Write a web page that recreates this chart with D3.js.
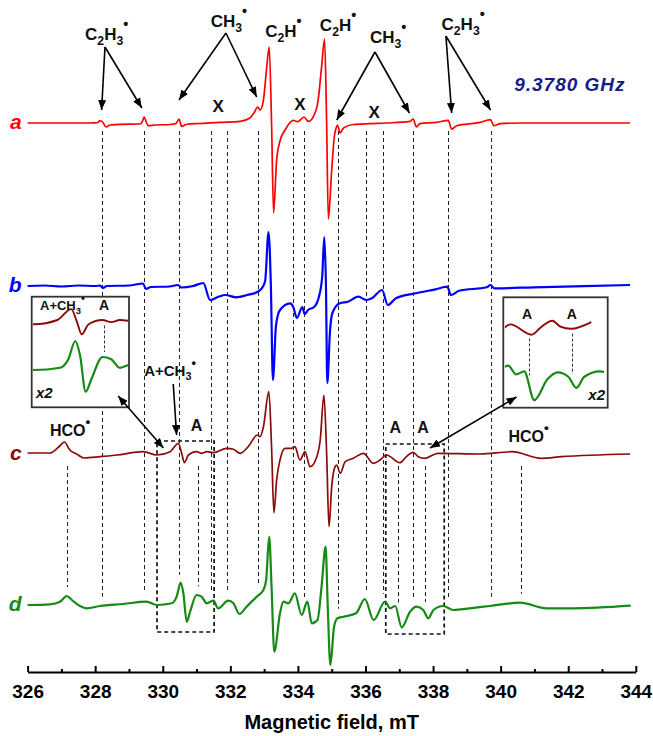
<!DOCTYPE html>
<html>
<head>
<meta charset="utf-8">
<script src="https://cdn.jsdelivr.net/npm/d3@7"></script>
<style>
  body { margin: 0; background: #fff; }
  svg { display: block; font-family: "Liberation Sans", Arial, sans-serif; }
</style>
</head>
<body>
<svg id="chart" width="653" height="736"></svg>
<script>
// ---- EPR spectra: [field (mT), intensity (a.u., relative to the trace baseline)] ----
const specA = [
  [326.00,0],[327.85,0],[328.08,0.5],[328.14,2.5],[328.23,0.5],[328.32,-4],[328.44,-2],[328.73,-1.3],
  [329.33,-1],[329.39,1],[329.45,6],[329.50,2],[329.57,-2.7],[329.77,-2],[330.21,-1.5],[330.39,-0.5],
  [330.48,4],[330.56,-3.4],[330.69,-1.5],[331.10,-0.5],[331.69,0.6],[332.29,1.6],[332.58,5],[332.70,10],
  [332.81,16],[332.88,13],[332.98,23],[333.08,57],[333.15,76],[333.22,0],[333.28,-90],[333.37,-37],
  [333.47,-18],[333.62,-7],[333.86,2.6],[333.99,1.3],[334.18,6],[334.31,1.6],[334.46,6.6],[334.60,23],
  [334.70,56],[334.79,84],[334.85,0],[334.90,-96],[335.00,-47],[335.08,-13],[335.13,-5],[335.17,-2],
  [335.25,-10],[335.35,-5],[335.64,-1.5],[336.13,-0.7],[336.62,0],[337.32,1.6],[337.41,4],[337.51,-4],
  [337.61,-0.7],[338.10,0.6],[338.45,2.6],[338.55,-6],[338.70,-2.7],[339.39,0.6],[339.70,3.3],[339.80,-2.7],
  [339.98,-0.7],[340.57,0],[343.83,0]
];
const specB = [
  [326.00,0],[326.50,0.5],[327.00,-0.5],[327.50,0.5],[328.00,0],[328.15,0.5],[328.22,-2],[328.35,0],
  [329.00,0.5],[329.42,2.5],[329.50,-3],[329.65,-1],[330.20,-0.5],[330.45,1],[330.55,-1.5],[330.90,0],
  [331.20,3],[331.40,-14],[331.65,-10.7],[331.85,-9],[332.17,-11.3],[332.50,-9],[332.81,-5.7],[332.93,-2.3],
  [333.03,5],[333.13,54],[333.20,0],[333.26,-94],[333.35,-40],[333.47,-24],[333.77,-17.3],[333.86,-20.7],
  [333.97,-32],[334.13,-21],[334.20,-28],[334.30,-24],[334.48,-21],[334.62,-11],[334.72,10],[334.78,49],
  [334.83,0],[334.87,-97],[334.95,-45],[335.02,-27],[335.24,-17.3],[335.48,-15.7],[335.79,-10.7],[336.02,-14],
  [336.19,-12.3],[336.49,-4],[336.66,-19],[336.90,-12.3],[337.49,-7.3],[338.07,-3.3],[338.42,-0.7],[338.53,-9],
  [338.77,-4.7],[339.59,-1.3],[339.70,1],[339.81,-2.3],[340.98,-1.3],[343.83,1]
];
const specC = [
  [326.00,1],[326.66,1],[326.92,7],[327.09,12],[327.25,4],[327.45,0],[327.67,-4],[328.14,-2.7],[328.64,-1],
  [329.43,2.3],[329.82,-1],[330.22,2.3],[330.46,10.7],[330.56,0.7],[330.64,-8.7],[330.76,-1],[331.00,2.3],
  [331.15,0.7],[331.30,2.3],[331.50,1.3],[331.89,5.7],[332.09,4.7],[332.29,0.7],[332.53,7.3],[332.80,19],
  [332.88,17.3],[332.98,27.3],[333.14,62.3],[333.22,7.3],[333.29,-58.7],[333.37,-26],[333.47,-6],[333.62,5.7],
  [333.81,5.7],[333.91,7.3],[334.06,-6],[334.21,2.3],[334.36,-12.7],[334.56,-2.7],[334.66,14],[334.77,59],
  [334.85,0.7],[334.92,-72.7],[335.00,-32.7],[335.10,-12.7],[335.15,-11],[335.25,-19.3],[335.40,-7.7],
  [335.64,-4.3],[335.94,0.7],[336.23,-9.3],[336.43,-6],[336.62,-1],[337.02,-8.7],[337.19,-3.3],[337.41,1.7],
  [337.56,-2.7],[337.76,-4.3],[338.14,0.7],[339.39,0],[340.33,2.3],[341.21,-4.3],[341.80,-2.7],[343.83,0]
];
const specD = [
  [326.00,0],[326.66,0.7],[326.96,3.3],[327.16,9],[327.31,5],[327.55,-1],[327.75,-3.3],[328.14,-1],
  [328.83,1],[329.52,3.3],[329.82,0],[330.27,1.7],[330.41,8.3],[330.53,22.3],[330.61,11.7],[330.71,-16.7],
  [330.81,-6.7],[331.00,10],[331.15,8.3],[331.30,1.7],[331.50,4.3],[331.64,-3.3],[331.94,4.3],[332.09,1.7],
  [332.27,-9],[332.48,-1.7],[332.78,8.3],[332.98,15],[333.06,25],[333.15,68.3],[333.22,18.3],[333.30,-46.7],
  [333.47,-8.3],[333.57,3.3],[333.72,1.7],[333.91,11.7],[334.11,-10],[334.28,3.3],[334.41,-18.3],[334.58,-15],
  [334.70,18.3],[334.82,58.3],[334.88,1.7],[334.96,-60],[335.07,-21.7],[335.17,-13.3],[335.35,-11.7],
  [335.72,-8.3],[335.98,6],[336.24,-15],[336.58,3.3],[336.73,-3.3],[336.88,-1],[337.07,-22.3],[337.32,-6.7],
  [337.51,-1.7],[337.71,-5],[337.86,-13.3],[338.01,-5],[338.30,-1],[338.60,-5],[339.09,-3.3],[339.68,-1],
  [340.57,2.3],[341.36,-3.3],[342.14,-3.3],[343.85,-0.7]
];

// Line positions (mT) of the assigned radicals
const c2h3Lines = [328.19, 329.45, 338.45, 339.70];
const ch3Lines  = [330.48, 332.81, 335.19, 337.41];
const xLines    = [331.42, 331.90, 333.85, 334.18, 336.01, 336.52];
const hcoLines  = [327.16, 340.59];
const aLines    = [331.03, 336.97, 337.77];

// Axis ticks (mT)
const majorTicks = [326, 328, 330, 332, 334, 336, 338, 340, 342, 344];
const minorTicks = [327, 329, 331, 333, 335, 337, 339, 341, 343];

// ---- layout ----
const svg = d3.select("#chart");
const x = d3.scaleLinear().domain([326, 344]).range([27.6, 635.8]);
const y = d3.scaleLinear().domain([0, 100]).range([672, 572]);
const offset = { a: 549, b: 386, c: 218, d: 67 };
const colors = { a: "#ff0000", b: "#0000ff", c: "#8b0a0a", d: "#158a15" };
const series = { a: specA, b: specB, c: specC, d: specD };
const snap = v => Math.round(v) + 0.5;

const defs = svg.append("defs");
defs.append("marker").attr("id", "arrow")
  .attr("markerUnits", "userSpaceOnUse").attr("markerWidth", 10).attr("markerHeight", 8)
  .attr("refX", 10).attr("refY", 4).attr("orient", "auto-start-reverse")
  .append("path").attr("d", "M0,0 L10,4 L0,8 Z").attr("fill", "#000");

function valueAt(spec, f) {
  const i = d3.bisector(d => d[0]).left(spec, f);
  if (i <= 0) return spec[0][1];
  if (i >= spec.length) return spec[spec.length - 1][1];
  const [f0, v0] = spec[i - 1], [f1, v1] = spec[i];
  return v0 + (v1 - v0) * (f - f0) / (f1 - f0);
}

// ---- vertical dashed guide lines (behind the traces) ----
const guides = svg.append("g").attr("stroke", "#222").attr("stroke-width", 1)
  .attr("stroke-dasharray", "4,3");
const fromTop = [...c2h3Lines, ...ch3Lines, ...xLines];
const fromC = [...hcoLines, ...aLines];
function guideEnd(f) {
  const m = d3.max([f - 0.04, f, f + 0.04], g => valueAt(specD, g));
  return y(offset.d + m) - 9;
}
fromTop.forEach(f => guides.append("line")
  .attr("x1", snap(x(f))).attr("x2", snap(x(f))).attr("y1", y(offset.a) + 8).attr("y2", guideEnd(f)));
fromC.forEach(f => guides.append("line")
  .attr("x1", snap(x(f))).attr("x2", snap(x(f))).attr("y1", y(offset.c) + 12).attr("y2", guideEnd(f)));

// ---- dashed boxes around the enlarged regions ----
const boxes = [
  { f0: 329.83, f1: 331.52, top: 441, bottom: 632 },
  { f0: 336.60, f1: 338.33, top: 444, bottom: 634 }
];
boxes.forEach(b => svg.append("rect")
  .attr("x", x(b.f0)).attr("y", b.top).attr("width", x(b.f1) - x(b.f0)).attr("height", b.bottom - b.top)
  .attr("fill", "none").attr("stroke", "#111").attr("stroke-width", 1.7).attr("stroke-dasharray", "4,3"));

// ---- spectra ----
const widths = { a: 1.7, b: 2.2, c: 1.7, d: 2.2 };
Object.keys(series).forEach(k => {
  const line = d3.line().curve(d3.curveMonotoneX)
    .x(d => x(d[0])).y(d => y(offset[k] + d[1]));
  svg.append("path").datum(series[k]).attr("d", line)
    .attr("fill", "none").attr("stroke", colors[k]).attr("stroke-width", widths[k])
    .attr("stroke-linejoin", "round");
  svg.append("text").attr("x", x(326) - 6).attr("y", y(offset[k]) + 6)
    .attr("text-anchor", "end").attr("font-size", 21).attr("font-weight", "bold")
    .attr("font-style", "italic").attr("fill", colors[k]).text(k);
});

// ---- x axis ----
const axisG = svg.append("g").attr("transform", `translate(0,${y(0)})`);
axisG.call(d3.axisBottom(x).tickValues(majorTicks).tickSize(-6).tickSizeOuter(0).tickPadding(13)
  .tickFormat(d3.format("d")));
axisG.append("g").call(d3.axisBottom(x).tickValues(minorTicks).tickSize(-3).tickSizeOuter(0).tickFormat(""))
  .select(".domain").remove();
axisG.selectAll("path, line").attr("stroke", "#000").attr("stroke-width", 2);
axisG.selectAll("text").attr("font-size", 19).attr("font-weight", "bold").attr("fill", "#000")
  .attr("font-family", "'Liberation Sans', Arial, sans-serif");
svg.append("text").attr("x", (x(326) + x(344)) / 2).attr("y", 729).attr("text-anchor", "middle")
  .attr("font-size", 20).attr("font-weight", "bold").text("Magnetic field, mT");

// ---- formula labels with sub/superscripts ----
function formula(parent, px, py, parts, size, anchor) {
  const t = parent.append("text").attr("x", px).attr("y", py).attr("font-size", size)
    .attr("font-weight", "bold").attr("text-anchor", anchor || "start").attr("fill", "#111");
  let shift = 0;
  parts.forEach(([s, kind]) => {
    const target = kind === "sub" ? 0.28 * size : kind === "sup" ? -0.62 * size : 0;
    const fs = kind === "sub" ? 0.72 * size : kind === "sup" ? 0.85 * size : size;
    t.append("tspan").attr("dy", target - shift).attr("font-size", fs).text(s);
    shift = target;
  });
  return t;
}
const C2H3 = [["C"], ["2", "sub"], ["H"], ["3", "sub"], ["•", "sup"]];
const CH3 = [["CH"], ["3", "sub"], ["•", "sup"]];
const C2H = [["C"], ["2", "sub"], ["H"], ["•", "sup"]];
const HCO = [["HCO"], ["•", "sup"]];
const ACH3 = [["A+CH"], ["3", "sub"], ["•", "sup"]];

function arrow(f0, y0, f1, y1, both) {
  const l = svg.append("line").attr("x1", x(f0)).attr("y1", y0).attr("x2", x(f1)).attr("y2", y1)
    .attr("stroke", "#000").attr("stroke-width", 1.6).attr("marker-end", "url(#arrow)");
  if (both) l.attr("marker-start", "url(#arrow)");
}

// top assignments
formula(svg, x(327.70), 40, C2H3, 17);
arrow(328.29, 47, 328.19, 110); arrow(328.29, 47, 329.38, 108);
formula(svg, x(331.42), 27, CH3, 17);
arrow(331.87, 33, 330.48, 100); arrow(331.87, 33, 332.78, 97);
formula(svg, x(333.03), 37, C2H, 17);
formula(svg, x(334.65), 31, C2H, 17);
formula(svg, x(336.13), 43, CH3, 17);
arrow(336.28, 52, 335.15, 120); arrow(336.28, 52, 337.30, 113);
formula(svg, x(338.25), 30, C2H3, 17);
arrow(338.38, 36, 338.55, 113); arrow(338.38, 36, 339.70, 110);
[[331.64, 112], [334.06, 110], [336.26, 118]].forEach(([f, py]) =>
  svg.append("text").attr("x", x(f)).attr("y", py).attr("text-anchor", "middle")
    .attr("font-size", 17).attr("font-weight", "bold").attr("fill", "#111").text("X"));
svg.append("text").attr("x", x(340.40)).attr("y", 91).attr("font-size", 19).attr("font-weight", "bold")
  .attr("font-style", "italic").attr("letter-spacing", 1).attr("fill", "#1a1a8a").text("9.3780 GHz");

// labels around trace c
formula(svg, x(329.45), 376, ACH3, 15);
arrow(330.31, 384, 330.41, 435);
svg.append("text").attr("x", x(331.00)).attr("y", 431).attr("text-anchor", "middle")
  .attr("font-size", 16).attr("font-weight", "bold").attr("fill", "#111").text("A");
formula(svg, x(326.66), 436, HCO, 16);
[336.88, 337.70].forEach(f => svg.append("text").attr("x", x(f)).attr("y", 433).attr("text-anchor", "middle")
  .attr("font-size", 16).attr("font-weight", "bold").attr("fill", "#111").text("A"));
formula(svg, x(340.23), 442, HCO, 16);

// ---- enlarged insets (traces c and d) ----
const insets = [
  { id: "insL", left: 31.7, top: 296.7, w: 97.3, h: 110.6, domain: [329.80, 331.44], px: [33, 128],
    red: 323, green: 370, k: 1.3, marks: [331.03] },
  { id: "insR", left: 503.3, top: 297.3, w: 104.4, h: 110.4, domain: [336.52, 338.38], px: [505, 604],
    red: 323, green: 370, k: 1.35, marks: [336.97, 337.77] }
];
insets.forEach(ins => {
  svg.append("rect").attr("x", ins.left).attr("y", ins.top).attr("width", ins.w).attr("height", ins.h)
    .attr("fill", "#fff").attr("stroke", "#333").attr("stroke-width", 1.8);
  defs.append("clipPath").attr("id", ins.id).append("rect")
    .attr("x", ins.px[0]).attr("y", ins.top).attr("width", ins.px[1] - ins.px[0]).attr("height", ins.h);
  const xi = d3.scaleLinear().domain(ins.domain).range(ins.px);
  const g = svg.append("g").attr("clip-path", `url(#${ins.id})`);
  [["c", ins.red], ["d", ins.green]].forEach(([k, base]) => {
    const pts = series[k].filter(d => d[0] > ins.domain[0] - 0.4 && d[0] < ins.domain[1] + 0.4);
    const line = d3.line().curve(d3.curveMonotoneX).x(d => xi(d[0])).y(d => base - ins.k * d[1]);
    g.append("path").datum(pts).attr("d", line).attr("fill", "none")
      .attr("stroke", colors[k]).attr("stroke-width", k === "d" ? 2.2 : 1.9);
  });
  ins.marks.forEach(f => {
    const top = ins.red - ins.k * valueAt(specC, f) + 5;
    const bot = ins.green - ins.k * d3.max([f - 0.03, f, f + 0.03], g2 => valueAt(specD, g2)) - 5;
    svg.append("line").attr("x1", snap(xi(f))).attr("x2", snap(xi(f))).attr("y1", top).attr("y2", bot)
      .attr("stroke", "#333").attr("stroke-width", 1).attr("stroke-dasharray", "3,2");
  });
});
// inset captions
formula(svg, 40, 310, ACH3, 13);
svg.append("text").attr("x", 104).attr("y", 310).attr("text-anchor", "middle")
  .attr("font-size", 14).attr("font-weight", "bold").attr("fill", "#111").text("A");
svg.append("text").attr("x", 36).attr("y", 398).attr("font-size", 15).attr("font-weight", "bold")
  .attr("font-style", "italic").attr("fill", "#111").text("x2");
[527, 571.7].forEach(px => svg.append("text").attr("x", px).attr("y", 319).attr("text-anchor", "middle")
  .attr("font-size", 14).attr("font-weight", "bold").attr("fill", "#111").text("A"));
svg.append("text").attr("x", 605).attr("y", 400).attr("text-anchor", "end").attr("font-size", 15)
  .attr("font-weight", "bold").attr("font-style", "italic").attr("fill", "#111").text("x2");

// pointers from the boxed regions to the insets
arrow(328.68, 396, 330.02, 448, true);
arrow(340.47, 397, 337.91, 448, true);
</script>
</body>
</html>
